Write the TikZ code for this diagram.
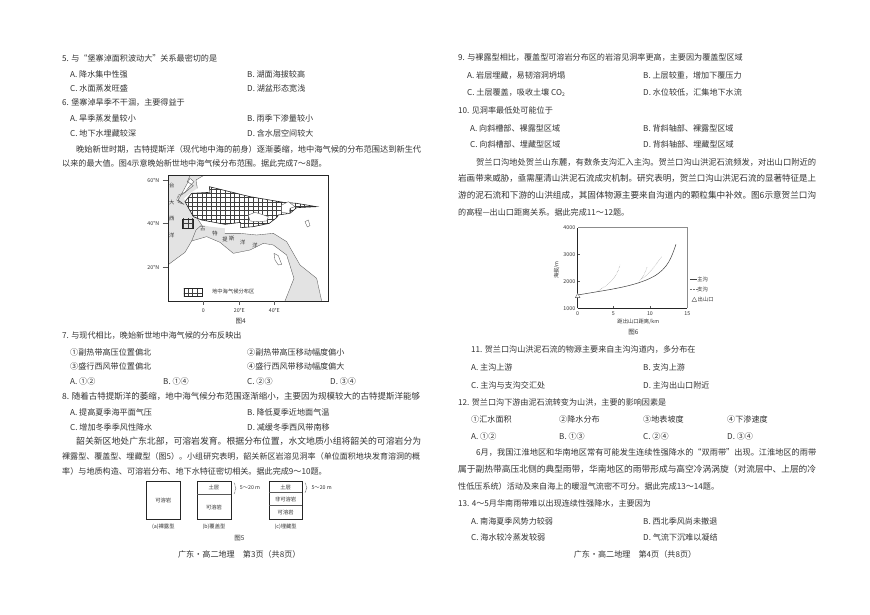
\documentclass[tikz,border=0pt]{standalone}
\usepackage{fontspec}
\setmainfont{Noto Sans CJK SC}
\usetikzlibrary{decorations.pathreplacing,calc}
\definecolor{ink}{gray}{0.2}
\definecolor{seagrey}{gray}{0.89}
\newcounter{tn}
\tikzset{
  body/.style={anchor=west,inner sep=0pt,text=ink,font=\fontsize{8.1}{8.1}\selectfont},
  foot/.style={anchor=center,inner sep=0pt,text=ink,font=\fontsize{8.1}{8.1}\selectfont},
  small/.style={anchor=center,inner sep=0pt,text=ink,font=\fontsize{5.3}{5.3}\selectfont},
  frameline/.style={draw=black!85,line width=0.6pt},
  thin line/.style={draw=black!65,line width=0.35pt},
  gridline/.style={draw=black!75,line width=0.4pt},
}
\newcommand{\TL}[3]{\stepcounter{tn}\node[body] (t\thetn) at (#1,#2) {#3};}
\newcommand{\TS}[4]{\stepcounter{tn}\node[body,minimum width=#3pt] (t\thetn) at (#1,#2) {\resizebox{#3pt}{!}{#4}};}
\newcommand{\TF}[3]{\stepcounter{tn}\node[foot] (t\thetn) at (#1,#2) {#3};}
\newcommand{\TM}[3]{\stepcounter{tn}\node[small] (t\thetn) at (#1,#2) {#3};}
\newcommand{\TR}[3]{\stepcounter{tn}\node[small,rotate=90] (t\thetn) at (#1,#2) {#3};}
\newcommand{\gridfill}{%
  \foreach \gx in {164,178,...,680} {\draw[gridline] (\gx,20) -- (\gx,410);}
  \foreach \gy in {20,33,...,410} {\draw[gridline] (160,\gy) -- (680,\gy);}
}
\begin{document}
\begin{tikzpicture}[x=1pt,y=-1pt]
\useasboundingbox (0,0) rectangle (870,615);
\fill[white] (0,0) rectangle (870,615);
% left column
\TL{62}{58}{5. 与“堡寨淖面积波动大”关系最密切的是}
\TL{70}{74}{A. 降水集中性强}\TL{247}{74}{B. 湖面海拔较高}
\TL{70}{88}{C. 水面蒸发旺盛}\TL{247}{88}{D. 湖盆形态宽浅}
\TL{62}{103}{6. 堡寨淖旱季不干涸，主要得益于}
\TL{70}{118}{A. 旱季蒸发量较小}\TL{247}{118}{B. 雨季下渗量较小}
\TL{70}{133}{C. 地下水埋藏较深}\TL{247}{133}{D. 含水层空间较大}
\TS{76}{149}{345}{晚始新世时期，古特提斯洋（现代地中海的前身）逐渐萎缩，地中海气候的分布范围达到新生代}
\TL{62}{163}{以来的最大值。图4示意晚始新世地中海气候分布范围。据此完成7～8题。}
\TL{62}{336}{7. 与现代相比，晚始新世地中海气候的分布反映出}
\TL{70}{352}{①副热带高压位置偏北}\TL{247}{352}{②副热带高压移动幅度偏小}
\TL{70}{366}{③盛行西风带位置偏北}\TL{247}{366}{④盛行西风带移动幅度偏大}
\TL{70}{381}{A. ①②}\TL{163}{381}{B. ①④}\TL{247}{381}{C. ②③}\TL{330}{381}{D. ③④}
\TS{62}{396}{358}{8. 随着古特提斯洋的萎缩，地中海气候分布范围逐渐缩小，主要因为规模较大的古特提斯洋能够}
\TL{70}{412}{A. 提高夏季海平面气压}\TL{247}{412}{B. 降低夏季近地面气温}
\TL{70}{427}{C. 增加冬季季风性降水}\TL{247}{427}{D. 减缓冬季西风带南移}
\TS{76}{441}{345}{韶关新区地处广东北部，可溶岩发育。根据分布位置，水文地质小组将韶关的可溶岩分为}
\TS{62}{456}{358}{裸露型、覆盖型、埋藏型（图5）。小组研究表明，韶关新区岩溶见洞率（单位面积地块发育溶洞的概}
\TL{62}{471}{率）与地质构造、可溶岩分布、地下水特征密切相关。据此完成9～10题。}
% figure 4
\begin{scope}[shift={(110,165)},x=0.3333pt,y=-0.3333pt]
  \fill[seagrey] (176,32) -- (280,32) -- (258,45) -- (262,70) -- (240,85) -- (222,100) -- (235,130) -- (262,160) -- (275,180) -- (300,185) -- (345,190) -- (345,205) -- (390,205) -- (440,210) -- (490,205) -- (530,230) -- (570,300) -- (620,340) -- (635,408) -- (525,408) -- (552,340) -- (530,270) -- (490,240) -- (460,235) -- (420,255) -- (370,265) -- (330,232) -- (290,215) -- (245,228) -- (225,262) -- (176,298) -- cycle;
  \fill[white,draw=black!70,line width=0.3pt] (240,40) -- (252,50) -- (240,62) -- (225,82) -- (205,90) -- (200,105) -- (222,118) -- (205,105) -- cycle;
  \draw[thin line] (240,32) -- (232,50) -- (250,62) -- (222,85) -- (205,95) -- (204,112) -- (222,118);
  \draw[thin line] (280,32) -- (258,45) -- (262,70);
  \draw[thin line] (262,160) -- (275,180) -- (258,195) -- (245,228);
  \draw[thin line] (245,228) -- (225,262) -- (176,298);
  \draw[thin line] (245,228) -- (290,215) -- (330,232) -- (370,265) -- (420,255) -- (460,235) -- (490,240) -- (530,270) -- (552,340) -- (525,408);
  \draw[thin line] (345,205) -- (390,205) -- (440,210) -- (490,205) -- (530,230) -- (570,300) -- (620,340) -- (635,408);
  \draw[thin line,fill=white] (492,265) -- (505,272) -- (515,298) -- (505,300) -- (495,285) -- cycle;
  \draw[thin line,fill=white] (585,170) -- (595,165) -- (600,182) -- (592,186) -- cycle;
  % hatched regions
  \begin{scope}
    \clip (225,110) -- (245,85) -- (300,82) -- (298,65) -- (420,95) -- (520,112) -- (560,115) -- (620,125) -- (560,128) -- (540,145) -- (505,150) -- (500,158) -- (478,175) -- (430,185) -- (392,188) -- (392,172) -- (345,178) -- (275,165) -- (250,155) -- cycle;
    \gridfill
  \end{scope}
  \draw[frameline] (225,110) -- (245,85) -- (300,82) -- (298,65) -- (420,95) -- (520,112) -- (560,115) -- (620,125) -- (560,128) -- (540,145) -- (505,150) -- (500,158) -- (478,175) -- (430,185) -- (392,188) -- (392,172) -- (345,178) -- (275,165) -- (250,155) -- cycle;
  \begin{scope}
    \clip (217,162) rectangle (250,190);
    \gridfill
  \end{scope}
  \draw[frameline] (217,162) rectangle (250,190);
  \draw[thin line,fill=white] (415,150) -- (435,142) -- (455,148) -- (475,155) -- (470,168) -- (440,170) -- (420,168) -- cycle;
  \draw[thin line,fill=white] (515,120) -- (535,110) -- (555,125) -- (540,130) -- (538,145) -- (515,142) -- cycle;
  \draw[frameline,line width=0.7pt] (175,32) rectangle (655,408);
  \foreach \yy in {46,176,308} {\draw[thin line] (158,\yy) -- (175,\yy);}
  \foreach \xx in {280,388,493} {\draw[thin line] (\xx,408) -- (\xx,420);}
  \begin{scope}
    \clip (222,370) rectangle (277,395);
    \gridfill
  \end{scope}
  \draw[frameline] (222,370) rectangle (277,395);
  \TM{130}{46}{60°N}\TM{130}{176}{40°N}\TM{130}{308}{20°N}
  \TM{280}{436}{0}\TM{388}{436}{20°E}\TM{493}{436}{40°E}
  \TM{185}{62}{台}\TM{185}{112}{大}\TM{185}{162}{西}\TM{185}{212}{洋}
  \TM{278}{190}{古}\TM{315}{205}{特}\TM{345}{222}{提}\TM{365}{222}{斯}\TM{398}{232}{洋}\TM{435}{242}{洋}
  \TM{370}{380}{地中海气候分布区}
  \TF{392}{468}{\fontsize{6.5}{6.5}\selectfont 图4}
\end{scope}
% figure 5
\begin{scope}[shift={(100,470)},x=0.3333pt,y=-0.3333pt]
  \draw[frameline] (140,35) rectangle (240,148);
  \draw[frameline] (292,35) rectangle (393,148);
  \draw[thin line] (292,72) -- (393,72);
  \draw[frameline] (507,35) rectangle (607,148);
  \draw[thin line] (507,68) -- (607,68);
  \draw[thin line] (507,106) -- (607,106);
  \draw[thin line,decorate,decoration={brace,amplitude=2pt}] (402,38) -- (402,72);
  \draw[thin line,decorate,decoration={brace,amplitude=2pt}] (615,38) -- (615,68);
  \TM{190}{92}{可溶岩}
  \TM{342}{54}{土层}\TM{342}{112}{可溶岩}
  \TM{557}{54}{土层}\TM{557}{88}{非可溶岩}\TM{557}{128}{可溶岩}
  \TM{450}{54}{5～20 m}\TM{665}{54}{5～20 m}
  \TM{190}{170}{(a)裸露型}\TM{342}{170}{(b)覆盖型}\TM{557}{170}{(c)埋藏型}
  \TF{418}{205}{\fontsize{6.5}{6.5}\selectfont 图5}
  \TF{418}{252}{广东·高二地理\quad 第3页（共8页）}
\end{scope}
% right column
\TL{458}{58}{9. 与裸露型相比，覆盖型可溶岩分布区的岩溶见洞率更高，主要因为覆盖型区域}
\TL{467}{76}{A. 岩层埋藏，易韧溶洞坍塌}\TL{643}{76}{B. 上层较重，增加下覆压力}
\TL{467}{93}{C. 土层覆盖，吸收土壤 CO\raisebox{-1pt}{\fontsize{5}{5}\selectfont 2}}\TL{643}{93}{D. 水位较低，汇集地下水流}
\TL{458}{110}{10. 见洞率最低处可能位于}
\TL{470}{128}{A. 向斜槽部、裸露型区域}\TL{643}{128}{B. 背斜轴部、裸露型区域}
\TL{470}{144}{C. 向斜槽部、埋藏型区域}\TL{643}{144}{D. 背斜轴部、埋藏型区域}
\TS{476}{162}{340}{贺兰口沟地处贺兰山东麓，有数条支沟汇入主沟。贺兰口沟山洪泥石流频发，对出山口附近的}
\TS{458}{178}{358}{岩画带来威胁，亟需厘清山洪泥石流成灾机制。研究表明，贺兰口沟山洪泥石流的显著特征是上}
\TS{458}{195}{358}{游的泥石流和下游的山洪组成，其固体物源主要来自沟道内的颗粒集中补效。图6示意贺兰口沟}
\TL{458}{212}{的高程—出山口距离关系。据此完成11～12题。}
% figure 6
\begin{scope}[shift={(540,215)},x=0.3333pt,y=-0.3333pt]
  \draw[frameline] (113,280) -- (113,38);
  \draw[draw=black!45,line width=0.8pt] (113,38) -- (442,38) -- (442,280);
  \draw[frameline] (113,280) -- (442,280);
  \foreach \yy in {118,199} {\draw[thin line] (113,\yy) -- (121,\yy);}
  \foreach \xx in {220,330} {\draw[thin line] (\xx,280) -- (\xx,272);}
  \TM{88}{38}{4000}\TM{88}{118}{3000}\TM{88}{199}{2000}\TM{88}{280}{1000}
  \TM{113}{296}{0}\TM{220}{296}{5}\TM{330}{296}{10}\TM{442}{296}{15}
  \TR{50}{165}{海拔/m}
  \TM{295}{320}{距出山口距离/km}
  \TF{280}{352}{\fontsize{6.5}{6.5}\selectfont 图6}
  \draw[black!75,line width=0.5pt] (113,240) .. controls (200,225) and (285,215) .. (340,185) .. controls (385,160) and (395,125) .. (408,88);
  \draw[black!55,line width=0.4pt,densely dotted] (170,230) .. controls (205,210) and (230,190) .. (240,150);
  \draw[black!55,line width=0.4pt,densely dotted] (298,198) .. controls (312,185) and (316,170) .. (321,157);
  \draw[black!55,line width=0.4pt,densely dotted] (305,192) .. controls (335,170) and (350,145) .. (365,125);
  \draw[thin line,fill=white] (113,235) -- (120,248) -- (106,248) -- cycle;
  \draw[black!75,line width=0.5pt] (450,192) -- (472,192);
  \draw[black!55,line width=0.4pt,densely dotted] (450,222) -- (472,222);
  \draw[thin line] (463,247) -- (470,259) -- (456,259) -- cycle;
  \TM{488}{192}{主沟}\TM{488}{222}{支沟}\TM{497}{253}{出山口}
\end{scope}
\TL{471}{350}{11. 贺兰口沟山洪泥石流的物源主要来自主沟沟道内，多分布在}
\TL{471}{367}{A. 主沟上游}\TL{643}{367}{B. 支沟上游}
\TL{471}{385}{C. 主沟与支沟交汇处}\TL{643}{385}{D. 主沟出山口附近}
\TL{458}{402}{12. 贺兰口沟下游由泥石流转变为山洪，主要的影响因素是}
\TL{471}{419}{①汇水面积}\TL{559}{419}{②降水分布}\TL{643}{419}{③地表坡度}\TL{727}{419}{④下渗速度}
\TL{471}{436}{A. ①②}\TL{559}{436}{B. ①③}\TL{643}{436}{C. ②④}\TL{727}{436}{D. ③④}
\TS{476}{452}{340}{6月，我国江淮地区和华南地区常有可能发生连续性强降水的“双雨带”出现。江淮地区的雨带}
\TS{458}{469}{358}{属于副热带高压北侧的典型雨带，华南地区的雨带形成与高空冷涡涡旋（对流层中、上层的冷}
\TL{458}{486}{性低压系统）活动及来自海上的暖湿气流密不可分。据此完成13～14题。}
\TL{458}{504}{13. 4～5月华南雨带难以出现连续性强降水，主要因为}
\TL{471}{521}{A. 南海夏季风势力较弱}\TL{643}{521}{B. 西北季风尚未撤退}
\TL{471}{537}{C. 海水较冷蒸发较弱}\TL{643}{537}{D. 气流下沉难以凝结}
\TF{635}{554}{广东·高二地理\quad 第4页（共8页）}
\end{tikzpicture}
\end{document}
